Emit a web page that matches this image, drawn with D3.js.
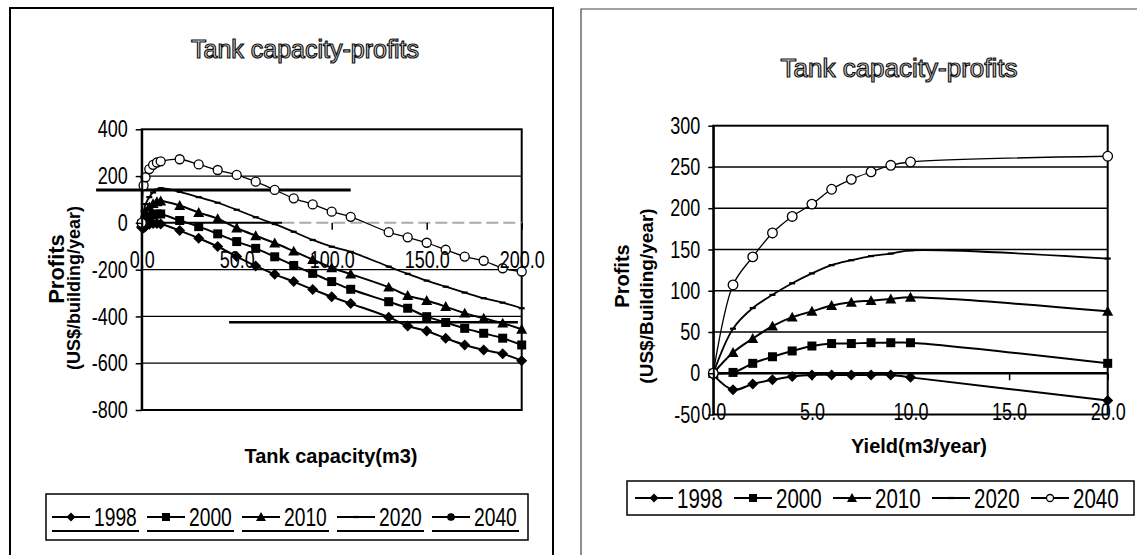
<!DOCTYPE html>
<html>
<head>
<meta charset="utf-8">
<script src="https://cdn.jsdelivr.net/npm/d3@7"></script>
<style>
  body { margin: 0; background: #fff; }
</style>
</head>
<body>
<div class="canvas"></div>
<script>
// series names
const years = ['1998', '2000', '2010', '2020', '2040'];

// left chart: tank capacity (m3) vs profits
const capX    = [0, 1, 2, 4, 6, 8, 10, 20, 30, 40, 50, 60, 70, 80, 90, 100, 110, 130, 140, 150, 160, 170, 180, 190, 200];
const cap1998 = [-20, -22, -15, -6, -3, -3, -5, -33, -66, -101, -144, -184, -220, -251, -285, -316, -345, -403, -441, -462, -493, -522, -543, -560, -589];
const cap2000 = [-5, 0, 12, 27, 35, 38, 38, 10, -16, -47, -80, -109, -145, -182, -216, -251, -284, -337, -365, -401, -426, -451, -472, -493, -522];
const cap2010 = [0, 25, 45, 68, 82, 90, 93, 74, 44, 18, -22, -55, -86, -121, -157, -192, -219, -275, -311, -332, -358, -386, -408, -429, -455];
const cap2020 = [0, 50, 80, 110, 130, 142, 148, 133, 110, 86, 56, 24, -5, -38, -73, -102, -124, -187, -218, -247, -273, -298, -322, -341, -365];
const cap2040 = [0, 160, 195, 230, 248, 258, 263, 272, 250, 226, 205, 176, 141, 105, 79, 48, 26, -40, -62, -85, -115, -144, -162, -194, -208];
const capXTicks = [0, 50, 100, 150, 200];
const capYTicks = [400, 200, 0, -200, -400, -600, -800];

// right chart: yield (m3/year) vs profits
const yieldX    = [0, 1, 2, 3, 4, 5, 6, 7, 8, 9, 10, 20];
const yield1998 = [-2, -20, -13, -8, -4, -2, -2, -2, -2, -2, -5, -33];
const yield2000 = [0, 1, 12, 20, 27, 33, 36, 36, 37, 37, 37, 12];
const yield2010 = [0, 25, 42, 57, 68, 75, 82, 86, 88, 90, 92, 75];
const yield2020 = [0, 54, 79, 95, 109, 121, 131, 137, 142, 145, 149, 139];
const yield2040 = [0, 107, 141, 170, 190, 205, 223, 235, 244, 252, 256, 263];
const yieldXTicks = [0, 5, 10, 15, 20];
const yieldYTicks = [300, 250, 200, 150, 100, 50, 0, -50];

const sans = "'Liberation Sans', Arial, sans-serif";

const shapes = ['diamond', 'square', 'triangle', 'dash', 'circle'];
const lineWidths = [2, 2, 2, 1.8, 1.3];

const svg = d3.select('.canvas')
  .append('svg')
  .attr('width', 1137)
  .attr('height', 555);

// squeeze text horizontally to imitate a narrow face
const condense = (sel, f) => {
  sel.each(function() {
    const w = this.getComputedTextLength();
    d3.select(this)
      .attr('textLength', w * f)
      .attr('lengthAdjust', 'spacingAndGlyphs');
  });
};

// marker shapes, s = half size
const markerPath = {
  diamond: s => `M0,${-s}L${s},0L0,${s}L${-s},0Z`,
  square: s => `M${-s},${-s}h${2 * s}v${2 * s}h${-2 * s}Z`,
  triangle: s => `M0,${-s}L${s},${s * 0.8}L${-s},${s * 0.8}Z`,
  dash: s => `M${-s},0h${2 * s}`
};

const drawMarker = (g, shape, cx, cy, s, filled) => {
  if (shape === 'circle') {
    g.append('circle')
      .attr('cx', cx).attr('cy', cy).attr('r', s)
      .attr('fill', filled ? '#000' : '#fff')
      .attr('stroke', '#000').attr('stroke-width', 1.3);
  } else if (shape === 'dash') {
    g.append('path')
      .attr('d', markerPath.dash(s))
      .attr('transform', `translate(${cx},${cy})`)
      .attr('stroke', '#000').attr('stroke-width', 2.2);
  } else {
    g.append('path')
      .attr('d', markerPath[shape](s))
      .attr('transform', `translate(${cx},${cy})`)
      .attr('fill', '#000');
  }
};

const drawChart = (o) => {
  const x = d3.scaleLinear().domain(o.xDomain).range([o.left, o.right]);
  const y = d3.scaleLinear().domain(o.yDomain).range([o.bottom, o.top]);
  const g = svg.append('g');

  // gridlines
  g.selectAll('line.grid')
    .data(o.yTicks.filter(v => v !== 0 && v !== o.yDomain[0] && v !== o.yDomain[1]))
    .enter().append('line')
      .attr('class', 'grid')
      .attr('x1', o.left).attr('x2', o.right)
      .attr('y1', d => y(d)).attr('y2', d => y(d))
      .attr('stroke', '#000').attr('stroke-width', o.gridWidth);

  // plot frame
  g.append('rect')
    .attr('x', o.left).attr('y', o.top)
    .attr('width', o.right - o.left).attr('height', o.bottom - o.top)
    .attr('fill', 'none').attr('stroke', '#000').attr('stroke-width', o.frameWidth);

  // zero line, partly faded on the left chart
  g.append('line')
    .attr('x1', x(o.xDomain[0])).attr('x2', x(o.zeroSolidTo))
    .attr('y1', y(0)).attr('y2', y(0))
    .attr('stroke', '#000').attr('stroke-width', o.zeroWidth);
  if (o.zeroSolidTo < o.xDomain[1]) {
    g.append('line')
      .attr('x1', x(o.zeroSolidTo)).attr('x2', x(o.xDomain[1]))
      .attr('y1', y(0)).attr('y2', y(0))
      .attr('stroke', '#aaa').attr('stroke-width', 2)
      .attr('stroke-dasharray', '12,5');
  }

  // stray scan lines
  (o.scanLines || []).forEach(l => {
    g.append('line')
      .attr('x1', x(l[0])).attr('x2', x(l[1]))
      .attr('y1', y(l[2])).attr('y2', y(l[2]))
      .attr('stroke', '#000').attr('stroke-width', l[3]);
  });

  // series
  const line = d3.line()
    .x(d => x(d[0]))
    .y(d => y(d[1]))
    .curve(d3.curveCatmullRom.alpha(0.5));

  o.series.forEach((vals, i) => {
    const pts = o.xs.map((xv, j) => [xv, vals[j]]);
    g.append('path')
      .datum(pts)
      .attr('d', line)
      .attr('fill', 'none')
      .attr('stroke', '#000')
      .attr('stroke-width', lineWidths[i]);
    const mg = g.append('g');
    pts.forEach(p => drawMarker(mg, shapes[i], x(p[0]), y(p[1]), o.markerSize[i], false));
  });

  // axes
  const yAxisGroup = g.append('g')
    .attr('transform', `translate(${o.left},0)`)
    .call(d3.axisLeft(y).tickValues(o.yTicks).tickSize(o.yTick).tickSizeOuter(0)
      .tickPadding(o.yPad).tickFormat(d => String(d)));
  yAxisGroup.select('.domain').attr('stroke-width', o.frameWidth);
  yAxisGroup.selectAll('line').attr('stroke-width', 1.5);
  yAxisGroup.selectAll('text')
    .attr('font-family', sans).attr('font-size', '24px').attr('fill', '#000')
    .call(condense, 0.75);

  const xAxisGroup = g.append('g')
    .attr('transform', `translate(0,${y(0)})`)
    .call(d3.axisBottom(x).tickValues(o.xTicks).tickSize(7).tickSizeOuter(0)
      .tickPadding(o.xPad).tickFormat(d3.format('.1f')));
  xAxisGroup.select('.domain').remove();
  xAxisGroup.selectAll('line').attr('stroke-width', 1.5);
  xAxisGroup.selectAll('text')
    .attr('font-family', sans).attr('font-size', '24px').attr('fill', '#000')
    .call(condense, 0.75);

  // chart title (outlined lettering)
  svg.append('text')
    .attr('x', o.titleX).attr('y', o.titleY)
    .attr('text-anchor', 'middle')
    .attr('font-family', sans).attr('font-size', o.titleSize + 'px')
    .attr('fill', '#e8e8e8').attr('stroke', '#111').attr('stroke-width', 1.2)
    .text('Tank capacity-profits');

  // axis titles
  svg.append('text')
    .attr('x', o.xTitleX).attr('y', o.xTitleY)
    .attr('text-anchor', 'middle')
    .attr('font-family', sans).attr('font-weight', 'bold').attr('font-size', '20px')
    .text(o.xTitle);
  o.yTitle.forEach((t, i) => {
    svg.append('text')
      .attr('transform', `translate(${o.yTitlePos[i][0]},${o.yTitlePos[i][1]}) rotate(-90)`)
      .attr('text-anchor', 'middle')
      .attr('font-family', sans).attr('font-weight', 'bold')
      .attr('font-size', o.yTitleSize[i] + 'px')
      .text(t);
  });

  // legend
  const lg = svg.append('g');
  lg.append('rect')
    .attr('x', o.legend.x).attr('y', o.legend.y)
    .attr('width', o.legend.w).attr('height', o.legend.h)
    .attr('fill', '#fff').attr('stroke', '#000').attr('stroke-width', 1.5);
  const cy = o.legend.y + o.legend.mid;
  years.forEach((yr, i) => {
    const x0 = o.legend.start + i * o.legend.step;
    lg.append('line')
      .attr('x1', x0).attr('x2', x0 + o.legend.lineLen)
      .attr('y1', cy).attr('y2', cy)
      .attr('stroke', '#000').attr('stroke-width', 1.8);
    drawMarker(lg, shapes[i], x0 + o.legend.lineLen / 2, cy, o.legend.marker[i], o.legend.filledCircle);
    lg.append('text')
      .attr('x', x0 + o.legend.lineLen + 4).attr('y', cy + o.legend.fontSize * 0.36)
      .attr('font-family', sans).attr('font-size', o.legend.fontSize + 'px')
      .text(yr)
      .call(condense, o.legend.squeeze);
    if (o.legend.underline) {
      lg.append('line')
        .attr('x1', x0).attr('x2', x0 + o.legend.step - 8)
        .attr('y1', o.legend.y + o.legend.h - 9).attr('y2', o.legend.y + o.legend.h - 9)
        .attr('stroke', '#000').attr('stroke-width', 2);
    }
  });
};

// panel borders
svg.append('rect')
  .attr('x', 10).attr('y', 8).attr('width', 543).attr('height', 600)
  .attr('fill', 'none').attr('stroke', '#000').attr('stroke-width', 2);
svg.append('path')
  .attr('d', 'M581,560V9H1140')
  .attr('fill', 'none').attr('stroke', '#444').attr('stroke-width', 1.2);

drawChart({
  left: 141.7, right: 521.7, top: 129.3, bottom: 410,
  xDomain: [0, 200], yDomain: [-800, 400],
  xs: capX, series: [cap1998, cap2000, cap2010, cap2020, cap2040],
  xTicks: capXTicks, yTicks: capYTicks,
  gridWidth: 1.2, frameWidth: 2, zeroWidth: 2, zeroSolidTo: 74,
  yTick: 6, yPad: 8, xPad: 21,
  markerSize: [5.5, 4.5, 5.5, 3, 4.5],
  scanLines: [[-24, 110, 140, 3], [46, 198, -425, 2.5]],
  titleX: 305, titleY: 58, titleSize: 25,
  xTitle: 'Tank capacity(m3)', xTitleX: 331, xTitleY: 463,
  yTitle: ['Profits', '(US$/building/year)'], yTitlePos: [[64, 269], [80, 288]], yTitleSize: [22, 18],
  legend: { x: 46, y: 494, w: 482, h: 46, mid: 23, start: 52, step: 95, lineLen: 38,
            marker: [4.5, 4, 5, 3, 3.2], fontSize: 26, squeeze: 0.74, filledCircle: true, underline: true }
});

drawChart({
  left: 713.3, right: 1107.7, top: 125.7, bottom: 414.5,
  xDomain: [0, 20], yDomain: [-50, 300],
  xs: yieldX, series: [yield1998, yield2000, yield2010, yield2020, yield2040],
  xTicks: yieldXTicks, yTicks: yieldYTicks,
  gridWidth: 1.4, frameWidth: 2, zeroWidth: 2.5, zeroSolidTo: 20,
  yTick: 5, yPad: 8, xPad: 23,
  markerSize: [5.5, 4.5, 5.5, 3, 4.8],
  titleX: 899, titleY: 77, titleSize: 26,
  xTitle: 'Yield(m3/year)', xTitleX: 919, xTitleY: 453,
  yTitle: ['Profits', '(US$/Building/year)'], yTitlePos: [[629, 276], [653, 296]], yTitleSize: [20, 19],
  legend: { x: 627, y: 481, w: 507, h: 34, mid: 17, start: 635, step: 99, lineLen: 38,
            marker: [4.5, 4, 5, 3, 3.5], fontSize: 27, squeeze: 0.76, filledCircle: false, underline: false }
});
</script>
</body>
</html>
